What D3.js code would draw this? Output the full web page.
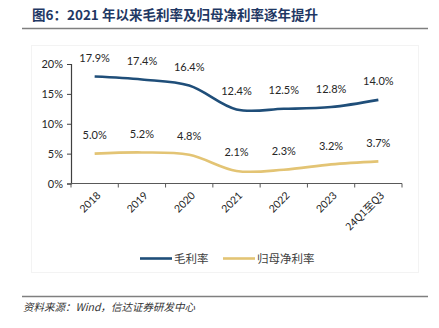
<!DOCTYPE html>
<html>
<head>
<meta charset="utf-8">
<script src="https://cdn.jsdelivr.net/npm/d3@7/dist/d3.min.js"></script>
<style>
  html, body { margin: 0; padding: 0; background: #fff; }
  svg { display: block; }
</style>
</head>
<body>
<svg id="chart" width="439" height="328"></svg>
<script>
// Periods and margin series (%)
const categories = ["2018", "2019", "2020", "2021", "2022", "2023", "24Q1至Q3"];
const grossMargin = [17.9, 17.4, 16.4, 12.4, 12.5, 12.8, 14.0];
const netMargin = [5.0, 5.2, 4.8, 2.1, 2.3, 3.2, 3.7];
const yTicks = [0, 5, 10, 15, 20];
const seriesNames = ["毛利率", "归母净利率"];
const seriesColors = ["#1f4e79", "#e3c474"];

const svg = d3.select("#chart");
const numFont = "Lato, 'Open Sans', sans-serif";
const cjkFont = "'Noto Sans CJK SC', sans-serif";

// Title and header rule
svg.append("text")
  .attr("x", 32).attr("y", 19.5)
  .attr("font-family", cjkFont)
  .attr("font-size", 13.5)
  .attr("font-weight", "bold")
  .attr("fill", "#1f3864")
  .text("图6：2021 年以来毛利率及归母净利率逐年提升");
svg.append("line")
  .attr("x1", 22).attr("x2", 428).attr("y1", 28.5).attr("y2", 28.5)
  .attr("stroke", "#7f7f7f").attr("stroke-width", 1.5);

// Faint chart frame
svg.append("rect")
  .attr("x", 31.5).attr("y", 45.5).attr("width", 387).attr("height", 227)
  .attr("fill", "none").attr("stroke", "#f3f3f3");

const x = d3.scaleBand().domain(categories).range([71, 402]);
const y = d3.scaleLinear().domain([0, 20]).range([183.5, 64]);

// Y axis
const yAxis = svg.append("g")
  .attr("transform", "translate(71,0)")
  .call(d3.axisLeft(y).tickValues(yTicks).tickSize(4).tickPadding(4).tickFormat(d => d + "%"));
yAxis.select(".domain").attr("stroke", "#404040").attr("stroke-width", 1.2);
yAxis.selectAll(".tick line").attr("stroke", "#404040");
yAxis.selectAll("text").attr("font-family", numFont).attr("font-size", 11).attr("fill", "#262626");

// X axis with ticks at band boundaries
const xAxisY = 183.5;
svg.append("line")
  .attr("x1", 71).attr("x2", 402).attr("y1", xAxisY).attr("y2", xAxisY)
  .attr("stroke", "#595959").attr("stroke-width", 1.2);
const bounds = categories.map(c => x(c)).concat([x.range()[1]]);
svg.selectAll(".xtick").data(bounds).enter().append("line")
  .attr("x1", d => d).attr("x2", d => d)
  .attr("y1", xAxisY).attr("y2", xAxisY + 4)
  .attr("stroke", "#595959").attr("stroke-width", 1);
const cx = c => x(c) + x.bandwidth() / 2;
svg.selectAll(".xlabel").data(categories).enter().append("text")
  .attr("transform", d => `translate(${cx(d) + 4},${xAxisY + 10}) rotate(-45)`)
  .attr("text-anchor", "end")
  .attr("dy", "0.35em")
  .attr("font-family", d => /[^\x00-\x7f]/.test(d) ? cjkFont : numFont)
  .attr("font-size", 10.5)
  .attr("fill", "#262626")
  .text(d => d);

// Smoothed lines
const line = d3.line()
  .x((d, i) => cx(categories[i]))
  .y(d => y(d))
  .curve(d3.curveCatmullRom.alpha(0.5));
[grossMargin, netMargin].forEach((vals, k) => {
  svg.append("path")
    .datum(vals)
    .attr("fill", "none")
    .attr("stroke", seriesColors[k])
    .attr("stroke-width", 2.6)
    .attr("stroke-linecap", "butt")
    .attr("d", line);
  svg.selectAll(".lbl" + k).data(vals).enter().append("text")
    .attr("x", (d, i) => cx(categories[i]))
    .attr("y", d => y(d) - 14.5)
    .attr("text-anchor", "middle")
    .attr("font-family", numFont)
    .attr("font-size", 11)
    .attr("fill", "#262626")
    .text(d => d.toFixed(1) + "%");
});

// Legend
const legendItems = [{ x: 140, name: seriesNames[0], color: seriesColors[0] },
                     { x: 223, name: seriesNames[1], color: seriesColors[1] }];
legendItems.forEach(item => {
  svg.append("line")
    .attr("x1", item.x).attr("x2", item.x + 32)
    .attr("y1", 258.5).attr("y2", 258.5)
    .attr("stroke", item.color).attr("stroke-width", 2.6);
  svg.append("text")
    .attr("x", item.x + 34).attr("y", 258.5)
    .attr("dy", "0.35em")
    .attr("font-family", cjkFont)
    .attr("font-size", 11.5)
    .attr("fill", "#404040")
    .text(item.name);
});

// Footer rule and source note
svg.append("line")
  .attr("x1", 22).attr("x2", 428).attr("y1", 296.5).attr("y2", 296.5)
  .attr("stroke", "#7f7f7f").attr("stroke-width", 1.5);
svg.append("text")
  .attr("x", 23).attr("y", 311)
  .attr("font-family", cjkFont)
  .attr("font-size", 10.5)
  .attr("font-style", "italic")
  .attr("fill", "#333")
  .text("资料来源：Wind，信达证券研发中心");
</script>
</body>
</html>
